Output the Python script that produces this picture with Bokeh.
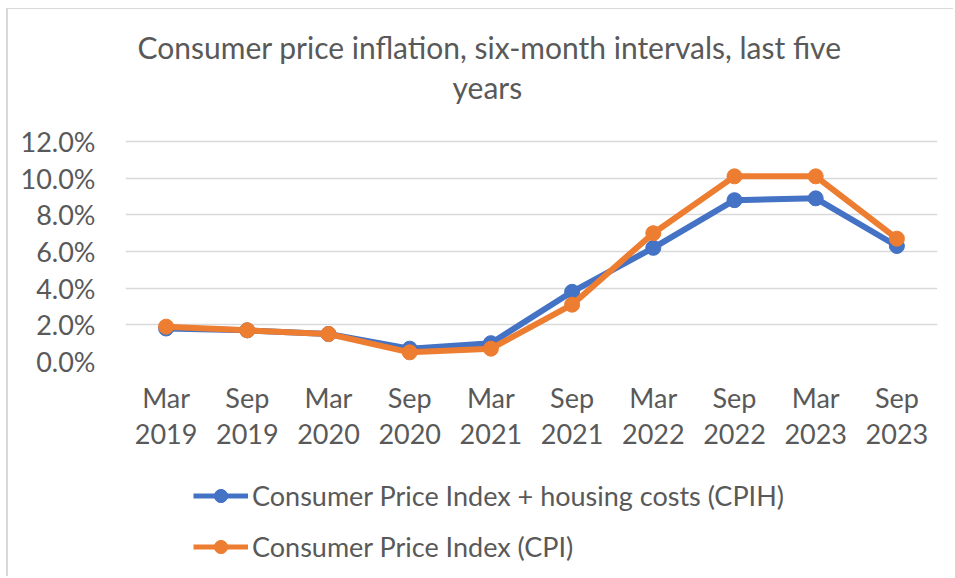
from bokeh.plotting import figure
from bokeh.layouts import column
from bokeh.models import Range1d, FixedTicker, PrintfTickFormatter, Legend, LegendItem, Title
from bokeh.embed import file_html
from bokeh.resources import INLINE

categories = ["Mar\n2019", "Sep\n2019", "Mar\n2020", "Sep\n2020", "Mar\n2021",
              "Sep\n2021", "Mar\n2022", "Sep\n2022", "Mar\n2023", "Sep\n2023"]
cpih = [1.8, 1.7, 1.5, 0.7, 1.0, 3.8, 6.2, 8.8, 8.9, 6.3]
cpi = [1.9, 1.7, 1.5, 0.5, 0.7, 3.1, 7.0, 10.1, 10.1, 6.7]
y_ticks = [0, 2, 4, 6, 8, 10, 12]
series_names = ["Consumer Price Index + housing costs (CPIH)", "Consumer Price Index (CPI)"]
title_line1 = "Consumer price inflation, six-month intervals, last five"
title_line2 = "years"

BLUE = "#4472C4"
ORANGE = "#ED7D31"
TEXT = "#595959"
FONT = "Lato"
W = 945

# ---- main chart ----
# y range runs a little above the 12% gridline to leave room between title and plot
p = figure(x_range=categories, y_range=Range1d(0, 13.91), width=W, height=461,
           output_backend="svg", toolbar_location=None,
           min_border_left=117, min_border_right=W - 929, min_border_top=97, min_border_bottom=109,
           title=title_line1)

p.title.align = "left"
p.title.offset = 12
p.title.standoff = 0
p.title.text_font = FONT
p.title.text_font_size = "30px"
p.title.text_font_style = "normal"
p.title.text_color = TEXT
p.add_layout(Title(text=title_line2, align="left", offset=327, standoff=4, text_font=FONT,
                   text_font_size="30px", text_font_style="normal", text_color=TEXT), "above")

p.outline_line_color = None
p.xgrid.grid_line_color = None
p.ygrid.grid_line_color = "#D9D9D9"
p.ygrid.grid_line_width = 1.5

p.yaxis.ticker = FixedTicker(ticks=y_ticks)
p.yaxis.formatter = PrintfTickFormatter(format="%.1f%%")
for ax in (p.xaxis, p.yaxis):
    ax.axis_line_color = None
    ax.major_tick_line_color = None
    ax.minor_tick_line_color = None
    ax.major_label_text_font = FONT
    ax.major_label_text_font_size = "27px"
    ax.major_label_text_color = TEXT
p.yaxis.major_label_standoff = 24
p.xaxis.major_label_standoff = 13
p.xaxis.major_label_text_line_height = 1.1

p.line(categories, cpih, line_color=BLUE, line_width=6)
p.scatter(categories, cpih, size=15, fill_color=BLUE, line_color=BLUE)
p.line(categories, cpi, line_color=ORANGE, line_width=6)
p.scatter(categories, cpi, size=15, fill_color=ORANGE, line_color=ORANGE)

# ---- legend strip (same series, drawn off-range so only the legend shows) ----
lp = figure(x_range=categories, y_range=Range1d(100, 101), width=W, height=106,
            output_backend="svg", toolbar_location=None,
            x_axis_location=None, y_axis_location=None,
            min_border_left=117, min_border_right=W - 929, min_border_top=0, min_border_bottom=0)
lp.outline_line_color = None
lp.grid.grid_line_color = None
b1 = lp.line(categories, cpih, line_color=BLUE, line_width=5)
b2 = lp.scatter(categories, cpih, size=15, fill_color=BLUE, line_color=BLUE)
o1 = lp.line(categories, cpi, line_color=ORANGE, line_width=5)
o2 = lp.scatter(categories, cpi, size=15, fill_color=ORANGE, line_color=ORANGE)

legend = Legend(items=[LegendItem(label=series_names[0], renderers=[b1, b2]),
                       LegendItem(label=series_names[1], renderers=[o1, o2])],
                location=(68, 13), orientation="vertical",
                glyph_width=55, glyph_height=33, label_height=33, spacing=18,
                label_standoff=4, padding=0, margin=0,
                label_text_font=FONT, label_text_font_size="27px", label_text_color=TEXT,
                background_fill_alpha=0, border_line_color=None)
lp.add_layout(legend, "center")

layout = column(p, lp, spacing=0)
layout.styles = {"margin-left": "6px", "margin-top": "8px",
                 "border-left": "2px solid #d9d9d9", "border-top": "1px solid #d9d9d9"}
open("out.html", "w").write(file_html(layout, INLINE))
